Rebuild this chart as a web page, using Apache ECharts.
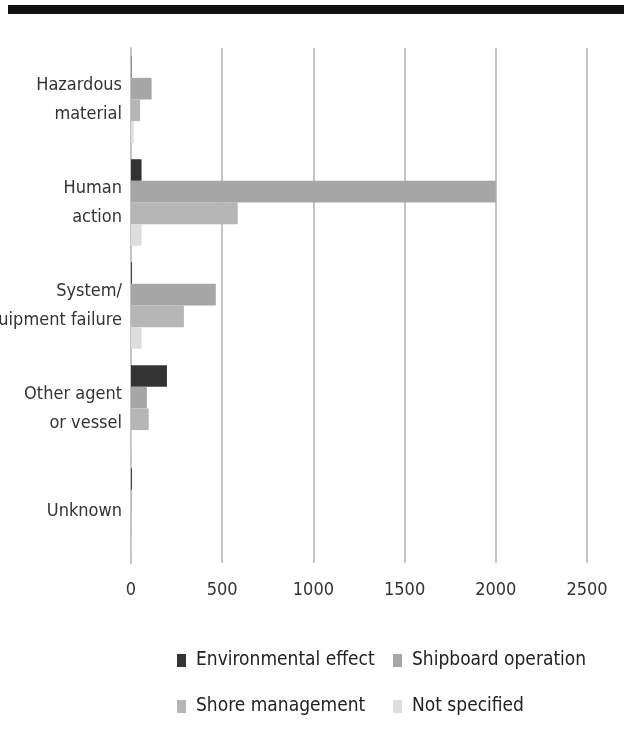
<!DOCTYPE html>
<html><head><meta charset="utf-8">
<script src="https://cdn.jsdelivr.net/npm/echarts@6/dist/echarts.min.js"></script>
<style>html,body{margin:0;padding:0;background:#fff}#c{width:624px;height:748px}</style>
</head><body><div id="c"></div>
<script>
var categories = ['Hazardous\nmaterial', 'Human\naction', 'System/\nequipment failure', 'Other agent\nor vessel', 'Unknown'];
var seriesNames = ['Environmental effect', 'Shipboard operation', 'Shore management', 'Not specified'];
var environmental = [2, 58, 5, 197, 5];
var shipboard = [113, 2000, 465, 87, 2];
var shore = [50, 585, 290, 97, 1];
var notSpecified = [15, 58, 58, 3, 2];
var xTicks = [0, 500, 1000, 1500, 2000, 2500];

var FONT = '"Liberation Sans Narrow", "DejaVu Sans Condensed", "Liberation Sans", sans-serif';
var colors = ['#333333', '#a6a6a6', '#b6b6b6', '#dedede'];
var values = [environmental, shipboard, shore, notSpecified];

var chart = echarts.init(document.getElementById('c'), null, {renderer: 'canvas'});
function legendAt(i, left, top) {
  return {
    data: [seriesNames[i]], left: left, top: top, orient: 'horizontal',
    icon: 'rect', itemWidth: 9, itemHeight: 13,
    textStyle: {fontFamily: FONT, fontSize: 19, color: '#222', padding: [0, 0, 0, 5]}
  };
}
chart.setOption({
  animation: false,
  color: colors,
  graphic: [{type: 'rect', shape: {x: 8, y: 5, width: 616, height: 9}, style: {fill: '#111'}}],
  grid: {left: 131, right: 37, top: 48, height: 515, containLabel: false, outerBoundsMode: 'none'},
  legend: [legendAt(0, 172, 646), legendAt(1, 388, 646), legendAt(2, 172, 692), legendAt(3, 388, 692)],
  xAxis: {
    type: 'value', min: xTicks[0], max: xTicks[xTicks.length - 1], interval: 500,
    axisLine: {show: false}, axisTick: {show: false},
    axisLabel: {fontFamily: FONT, fontSize: 18, color: '#333', margin: 18,
      formatter: function (v) { return String(v); }},
    splitLine: {show: true, lineStyle: {color: '#c4c4c4', width: 2}}
  },
  yAxis: {
    type: 'category', data: categories, inverse: true,
    axisLine: {show: true, lineStyle: {color: '#c4c4c4', width: 2}},
    axisTick: {show: false},
    axisLabel: {fontFamily: FONT, fontSize: 18, color: '#333', lineHeight: 29, margin: 9, align: 'right'}
  },
  series: seriesNames.map(function (n, i) {
    return {name: n, type: 'bar', data: values[i], barGap: '0%', barCategoryGap: '16%',
      itemStyle: {color: colors[i]}};
  })
});
</script></body></html>
